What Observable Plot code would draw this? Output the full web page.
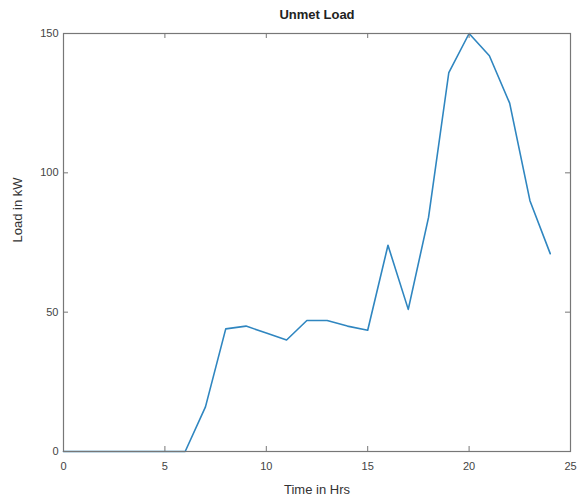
<!DOCTYPE html>
<html>
<head>
<meta charset="utf-8">
<script src="https://cdn.jsdelivr.net/npm/d3@7"></script>
<script src="https://cdn.jsdelivr.net/npm/@observablehq/plot@0.6"></script>
<style>
  html, body { margin: 0; padding: 0; background: #fff; }
  #chart { width: 577px; height: 502px; }
</style>
</head>
<body>
<div id="chart"></div>
<script>
const hours = [0,1,2,3,4,5,6,7,8,9,10,11,12,13,14,15,16,17,18,19,20,21,22,23,24];
const unmetLoad = [0,0,0,0,0,0,0,16,44,45,42.5,40,47,47,45,43.5,74,51,84,136,150,142,125,90,71];
const xTicks = [0,5,10,15,20,25];
const yTicks = [0,50,100,150];
const titleText = "Unmet Load";
const xLabel = "Time in Hrs";
const yLabel = "Load in kW";

const data = hours.map((h, i) => ({h, v: unmetLoad[i]}));

const W = 577, H = 502;
const mt = 33, mb = 51, ml = 63, mr = 7;
const plotH = H - mt - mb, plotW = W - ml - mr;
const axisColor = "#777";
const textColor = "#444";

const chart = Plot.plot({
  width: W,
  height: H,
  marginTop: mt, marginBottom: mb, marginLeft: ml, marginRight: mr,
  style: {fontFamily: "'Liberation Sans', Arial, sans-serif", fontSize: "11px", color: textColor, background: "#fff"},
  x: {domain: [0, 25], ticks: xTicks},
  y: {domain: [0, 150], ticks: yTicks},
  marks: [
    Plot.line(data, {x: "h", y: "v", stroke: "#2f86c0", strokeWidth: 1.6}),
    Plot.frame({stroke: axisColor, strokeWidth: 1.2}),
    // inward ticks on all four sides
    Plot.tickX(xTicks, {x: d => d, insetTop: plotH - 5, stroke: axisColor}),
    Plot.tickX(xTicks, {x: d => d, insetBottom: plotH - 5, stroke: axisColor}),
    Plot.tickY(yTicks, {y: d => d, insetRight: plotW - 5, stroke: axisColor}),
    Plot.tickY(yTicks, {y: d => d, insetLeft: plotW - 5, stroke: axisColor}),
    Plot.axisX({ticks: xTicks, tickSize: 0, tickPadding: 11, label: null, fill: textColor, fontSize: 11}),
    Plot.axisY({ticks: yTicks, tickSize: 0, tickPadding: 5, label: null, fill: textColor, fontSize: 11}),
    Plot.text([xLabel], {frameAnchor: "bottom", dy: 42, fontSize: 13, fill: "#333"}),
    Plot.text([yLabel], {frameAnchor: "left", dx: -46, rotate: -90, fontSize: 13, fill: "#333"}),
    Plot.text([titleText], {frameAnchor: "top", dy: -24, fontSize: 13, fontWeight: "bold", fill: "#222"})
  ]
});
document.getElementById("chart").appendChild(chart);
</script>
</body>
</html>
